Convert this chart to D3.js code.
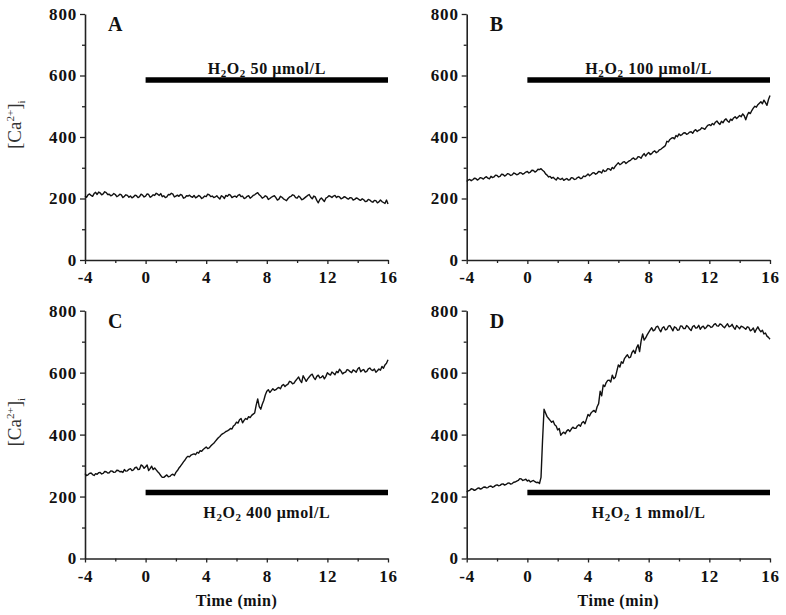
<!DOCTYPE html>
<html><head><meta charset="utf-8">
<script src="https://cdn.jsdelivr.net/npm/d3@7"></script>
<style>body{margin:0;background:#fff}svg{display:block}</style>
</head><body><svg id="chart" width="786" height="615"></svg>
<script>
// ---- data ----
const timeMin = d3.range(0, 201).map(i => Math.round((-4 + i * 0.1) * 10) / 10);
const panelIds = ["A", "B", "C", "D"];
const treatments = ["50 μmol/L", "100 μmol/L", "400 μmol/L", "1 mmol/L"];
const barLevels = [585, 585, 213, 213];
const barTimes = [0, 16];
const concA = [
208,204,212,215,210,207,216,220,213,221,218,212,215,222,219,213,214,209,211,216,
213,206,209,214,212,203,207,212,210,204,208,202,205,211,209,203,206,214,211,205,
208,215,213,204,207,212,210,217,214,210,216,206,209,203,205,213,212,217,214,205,
208,211,207,213,211,201,203,209,208,211,206,204,210,202,205,210,207,200,203,208,
206,214,212,206,208,203,205,209,203,198,209,206,200,210,207,213,211,203,206,208,
204,210,213,206,208,200,202,207,209,201,205,210,212,216,219,212,208,201,204,209,
206,197,200,204,207,209,203,195,198,207,204,199,196,193,200,205,207,212,210,203,
201,208,204,196,198,202,206,210,213,204,199,208,205,194,186,197,202,196,190,201,
204,209,207,203,208,210,203,207,205,199,201,206,204,200,198,203,202,195,197,202,
200,196,194,199,196,190,191,197,195,190,188,194,193,186,189,195,190,187,184,195,
182];
const concB = [
255,260,262,258,261,266,265,260,263,268,266,263,268,271,266,264,272,268,270,276,
275,270,272,279,278,273,276,281,279,275,277,283,281,277,279,284,283,279,282,286,
288,283,286,292,291,286,289,295,294,297,292,288,280,276,270,272,266,269,264,260,
268,264,262,266,259,262,265,260,261,268,267,262,263,268,270,265,266,273,271,275,
280,274,278,283,284,279,282,288,287,283,293,288,290,297,296,292,301,297,305,311,
316,310,313,318,320,314,318,322,324,329,332,327,329,336,335,331,340,346,338,345,
350,343,346,352,355,349,352,358,360,364,368,372,386,384,392,396,398,394,405,401,
410,405,408,413,414,409,411,416,417,412,420,424,418,422,424,430,428,425,432,438,
440,437,444,440,448,452,445,441,451,446,455,459,452,448,458,454,462,466,460,465,
470,466,475,469,456,471,480,476,486,494,500,497,505,510,515,508,520,512,503,522,
535];
const concC = [
274,268,270,275,276,271,268,274,272,277,278,273,275,281,280,276,277,283,282,278,
279,285,284,280,281,278,287,282,283,288,290,284,286,293,295,287,288,302,299,291,
296,302,284,290,298,287,292,286,280,275,268,262,262,266,270,264,265,270,272,268,
278,284,292,298,305,312,318,326,330,328,334,336,338,335,343,340,348,346,352,356,
360,355,357,363,368,372,378,384,390,394,400,403,406,410,412,415,420,418,428,432,
440,437,448,452,438,446,452,449,458,455,462,466,470,495,515,490,482,498,510,528,
540,545,536,542,548,543,545,550,552,548,558,562,555,560,563,572,570,564,566,574,
580,586,575,568,590,581,572,580,586,592,595,584,578,588,592,583,585,590,580,588,
600,595,592,602,598,593,604,600,611,605,596,600,602,610,608,603,600,609,606,601,
612,617,603,608,610,602,604,612,615,609,607,612,601,606,612,608,620,614,625,630,
642];
const concD = [
215,218,220,225,224,220,222,226,228,224,226,230,231,228,229,233,234,230,232,236,
238,235,236,240,241,237,239,243,244,240,242,246,247,250,252,258,257,252,254,256,
250,253,247,250,252,248,245,246,242,262,380,482,470,458,452,446,440,444,432,428,
415,420,398,404,408,403,412,416,410,418,424,420,420,428,432,427,438,442,435,450,
465,460,470,475,478,472,490,500,540,525,560,555,568,575,576,570,592,580,585,605,
625,618,635,630,645,652,658,648,650,665,672,662,680,690,668,702,725,705,712,722,
730,738,745,735,738,748,750,740,732,744,748,738,740,750,752,744,735,748,745,737,
738,751,750,742,742,752,748,741,736,749,752,744,745,753,740,747,750,742,746,753,
752,746,748,755,758,751,750,757,755,749,745,752,758,748,750,756,746,740,752,747,
742,750,748,744,740,748,746,735,738,744,730,740,748,738,732,737,725,728,718,714,
708];
const xTicks = [-4, 0, 4, 8, 12, 16];
const xMinorTicks = [-2, 2, 6, 10, 14];
const yTicks = [0, 200, 400, 600, 800];
const yMinorTicks = [100, 300, 500, 700];
const seriesList = [concA, concB, concC, concD];

// ---- layout ----
const layout = [
  {x0: 85, x1: 388, y0: 14, y1: 260, yLabel: true, xLabel: false, above: true},
  {x0: 466.7, x1: 770, y0: 14, y1: 260, yLabel: false, xLabel: false, above: true},
  {x0: 85, x1: 388, y0: 310.7, y1: 558.5, yLabel: true, xLabel: true, above: false},
  {x0: 466.7, x1: 770, y0: 310.7, y1: 558.5, yLabel: false, xLabel: true, above: false}
];
const serif = "'Liberation Serif','Times New Roman',serif";
const svg = d3.select("#chart");
const axisCol = "#222";

layout.forEach((L, i) => {
  const x = d3.scaleLinear().domain([-4, 16]).range([L.x0, L.x1]);
  const y = d3.scaleLinear().domain([0, 800]).range([L.y1, L.y0]);
  const g = svg.append("g");

  const gxm = g.append("g").attr("transform", `translate(0,${L.y1})`)
    .call(d3.axisBottom(x).tickValues(xMinorTicks).tickSize(3).tickFormat(""));
  const gym = g.append("g").attr("transform", `translate(${L.x0},0)`)
    .call(d3.axisLeft(y).tickValues(yMinorTicks).tickSize(3).tickFormat(""));
  [gxm, gym].forEach(a => { a.select(".domain").remove(); a.selectAll("line").attr("stroke", axisCol).attr("stroke-width", 1.3); });

  const gx = g.append("g").attr("transform", `translate(0,${L.y1})`)
    .call(d3.axisBottom(x).tickValues(xTicks).tickSize(4).tickSizeOuter(0).tickPadding(7).tickFormat(d3.format("d")));
  const gy = g.append("g").attr("transform", `translate(${L.x0},0)`)
    .call(d3.axisLeft(y).tickValues(yTicks).tickSize(5).tickSizeOuter(0).tickPadding(3).tickFormat(d3.format("d")));
  [gx, gy].forEach(a => {
    a.select(".domain").attr("stroke", axisCol).attr("stroke-width", 1.6);
    a.selectAll("line").attr("stroke", axisCol).attr("stroke-width", 1.3);
    a.selectAll("text").attr("font-family", serif).attr("font-weight", "bold")
      .attr("font-size", 17).attr("letter-spacing", "0.8px").attr("fill", "#111");
  });
  gx.selectAll("text").text(d => d < 0 ? "-" + Math.abs(d) : d);

  const line = d3.line().x((d, j) => x(timeMin[j])).y(d => y(d));
  g.append("path").datum(seriesList[i]).attr("d", line)
    .attr("fill", "none").attr("stroke", "#111").attr("stroke-width", 1.4).attr("stroke-linejoin", "round");

  const by = y(barLevels[i]);
  g.append("line").attr("x1", x(barTimes[0])).attr("x2", x(barTimes[1]))
    .attr("y1", by).attr("y2", by).attr("stroke", "#000").attr("stroke-width", 5.5);
  const lt = g.append("text").attr("x", (x(barTimes[0]) + x(barTimes[1])) / 2)
    .attr("y", L.above ? by - 6 : by + 25)
    .attr("text-anchor", "middle").attr("font-family", serif).attr("font-weight", "bold")
    .attr("font-size", 16).attr("letter-spacing", "0.6px").attr("fill", "#111");
  lt.append("tspan").text("H");
  lt.append("tspan").text("2").attr("font-size", 11).attr("dy", 3);
  lt.append("tspan").text("O").attr("dy", -3);
  lt.append("tspan").text("2").attr("font-size", 11).attr("dy", 3);
  lt.append("tspan").text(" " + treatments[i]).attr("dy", -3);

  g.append("text").attr("x", L.x0 + 23).attr("y", L.y0 + 17)
    .attr("font-family", serif).attr("font-weight", "bold").attr("font-size", 20)
    .attr("fill", "#111").text(panelIds[i]);

  if (L.yLabel) {
    const cy = y(440);
    const t = g.append("text").attr("transform", `translate(21,${cy}) rotate(-90)`)
      .attr("text-anchor", "middle").attr("font-family", serif).attr("font-size", 19).attr("fill", "#333");
    t.append("tspan").text("[Ca");
    t.append("tspan").text("2+").attr("font-size", 11).attr("dy", -7);
    t.append("tspan").text("]").attr("dy", 7);
    t.append("tspan").text("i").attr("font-size", 11).attr("dy", 4);
  }
  if (L.xLabel) {
    g.append("text").attr("x", (L.x0 + L.x1) / 2).attr("y", L.y1 + 47)
      .attr("text-anchor", "middle").attr("font-family", serif).attr("font-weight", "bold")
      .attr("font-size", 16).attr("letter-spacing", "0.5px").attr("fill", "#111").text("Time (min)");
  }
});
</script></body></html>
